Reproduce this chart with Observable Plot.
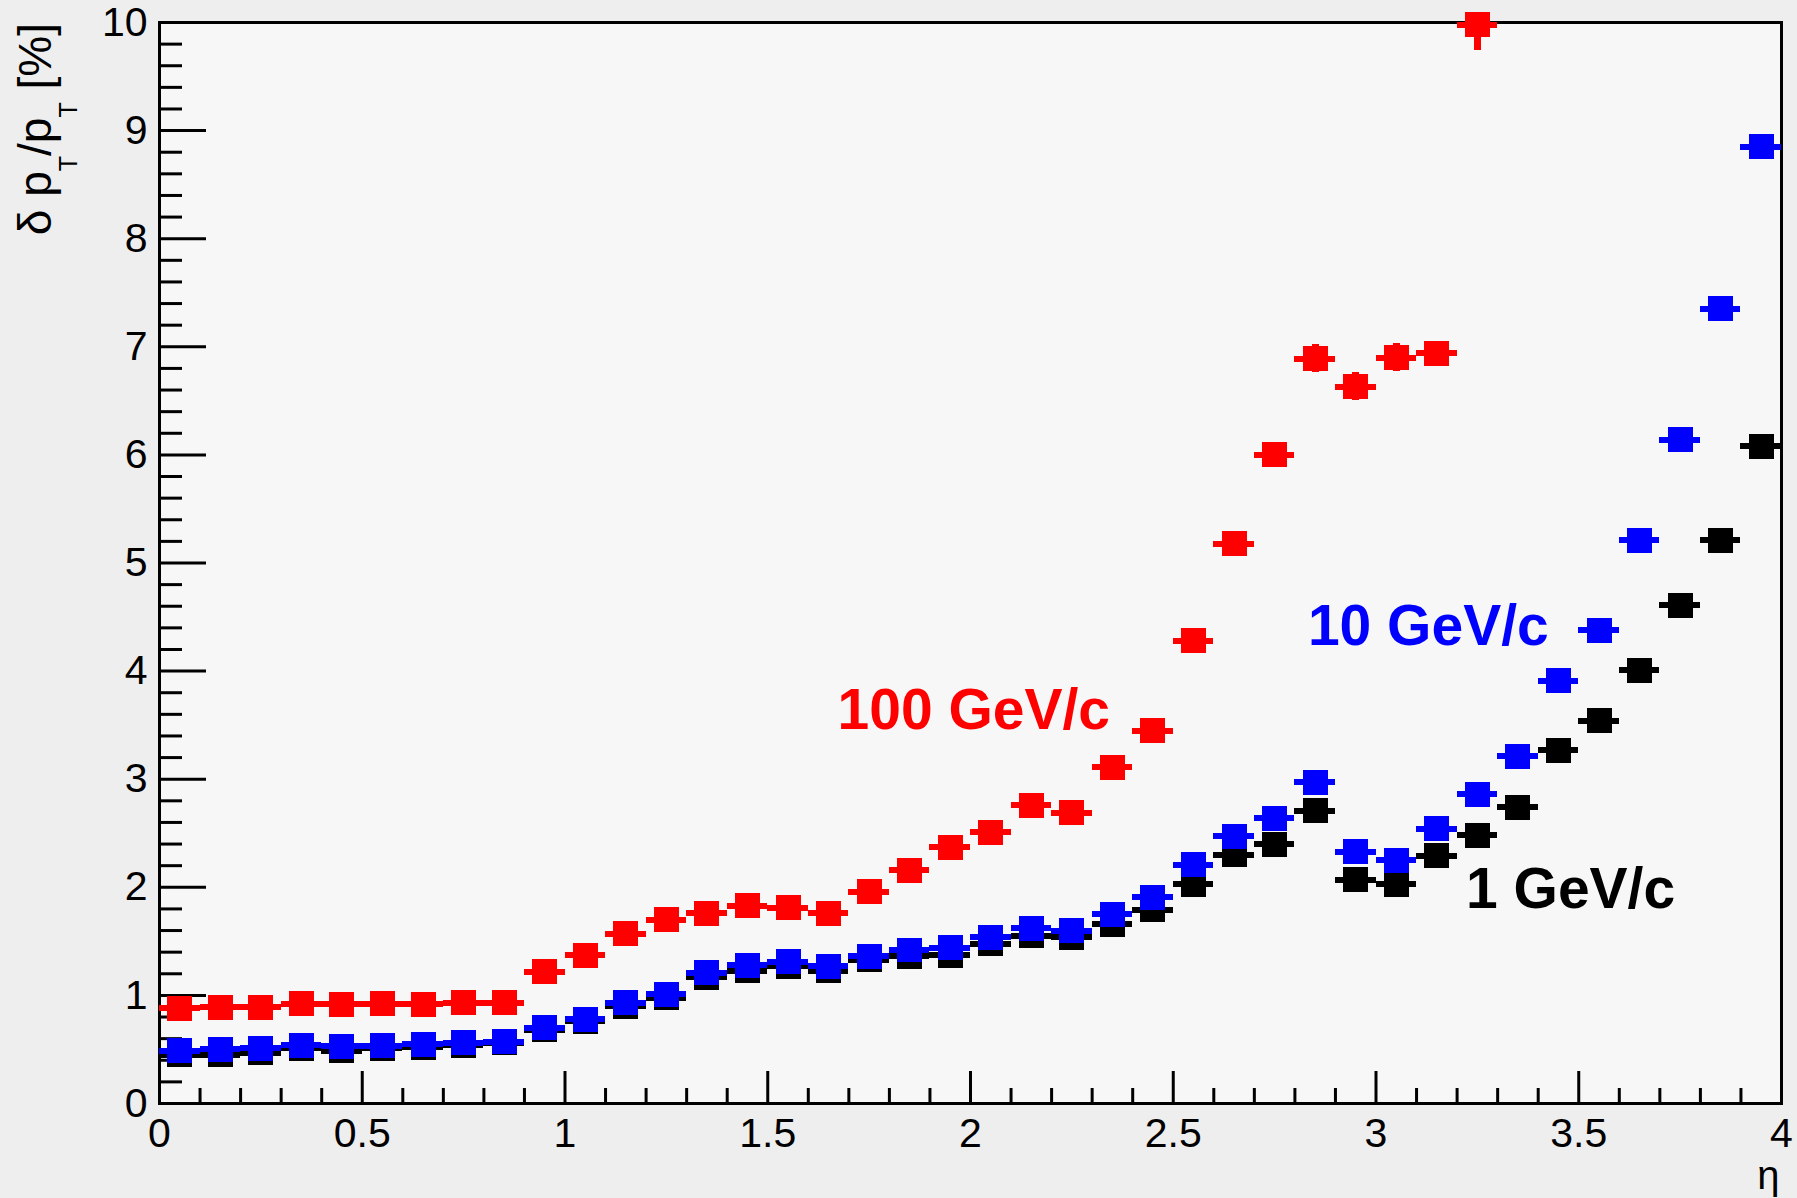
<!DOCTYPE html>
<html><head><meta charset="utf-8">
<script src="https://cdn.jsdelivr.net/npm/d3@7"></script>
<script src="https://cdn.jsdelivr.net/npm/@observablehq/plot@0.6"></script>
<style>
html,body{margin:0;padding:0;background:#eeeeee;}
#chart svg{display:block;}
</style></head><body><div id="chart"></div>
<script>
// ---- data ----
const etaBins = [0.05,0.15,0.25,0.35,0.45,0.55,0.65,0.75,0.85,0.95,
                 1.05,1.15,1.25,1.35,1.45,1.55,1.65,1.75,1.85,1.95,
                 2.05,2.15,2.25,2.35,2.45,2.55,2.65,2.75,2.85,2.95,
                 3.05,3.15,3.25,3.35,3.45,3.55,3.65,3.75,3.85,3.95];
const binHalfWidth = 0.05;

const res1GeV = [0.45,0.45,0.47,0.51,0.49,0.51,0.52,0.54,0.56,0.68,
                 0.76,0.90,0.98,1.17,1.23,1.27,1.23,1.33,1.36,1.37,
                 1.48,1.55,1.54,1.66,1.79,2.03,2.30,2.40,2.71,2.07,
                 2.03,2.29,2.48,2.74,3.27,3.54,4.01,4.61,5.21,6.08];
const res10GeV = [0.49,0.50,0.51,0.54,0.53,0.535,0.55,0.56,0.57,0.70,
                  0.78,0.93,1.01,1.21,1.28,1.31,1.27,1.36,1.42,1.44,
                  1.54,1.62,1.60,1.75,1.91,2.21,2.47,2.64,2.97,2.33,
                  2.25,2.54,2.86,3.21,3.91,4.38,5.21,6.14,7.35,8.85];
const res100GeV = [0.88,0.89,0.89,0.925,0.92,0.925,0.92,0.93,0.93,1.22,
                   1.37,1.57,1.70,1.76,1.83,1.81,1.76,1.96,2.16,2.37,
                   2.51,2.76,2.69,3.11,3.45,4.28,5.18,6.00,6.89,6.63,
                   6.90,6.94,9.98];
const err100GeV = [0.03,0.03,0.03,0.03,0.03,0.03,0.03,0.03,0.03,0.04,
                   0.04,0.05,0.05,0.05,0.05,0.05,0.05,0.06,0.06,0.07,
                   0.07,0.08,0.08,0.09,0.09,0.10,0.11,0.11,0.13,0.13,
                   0.13,0.11,0.24];

const seriesNames  = ["1 GeV/c", "10 GeV/c", "100 GeV/c"];
const seriesColors = ["#000000", "#0000ff", "#ff0000"];
const labelEta     = [3.222, 2.832, 1.672];
const labelValue   = [1.806, 4.24, 3.46];

const xMajorTicks = [0, 0.5, 1, 1.5, 2, 2.5, 3, 3.5, 4];
const xTickLabels = ["0", "0.5", "1", "1.5", "2", "2.5", "3", "3.5", "4"];
const yMajorTicks = [0,1,2,3,4,5,6,7,8,9,10];
const yTickLabels = ["0","1","2","3","4","5","6","7","8","9","10"];
const xMinorTicks = d3.range(0, 41).map(i => i / 10).filter(v => Math.abs(v * 2 - Math.round(v * 2)) > 1e-6);
const yMinorTicks = d3.range(0, 51).map(i => i / 5).filter(v => Math.abs(v - Math.round(v)) > 1e-6);

// ---- tables ----
function rows(values, errs) {
  return values.map((v, i) => ({eta: etaBins[i], v, err: errs ? errs[i] : 0}));
}
const tables = [rows(res1GeV), rows(res10GeV), rows(res100GeV, err100GeV)];

// ---- layout ----
const W = 1797, H = 1198, mL = 159, mR = 16, mT = 22, mB = 95;
const frameW = W - mL - mR, frameH = H - mT - mB;
const font = "'Liberation Sans', Arial, Helvetica, sans-serif";

function seriesMarks(data, color) {
  return [
    Plot.ruleY(data, {y: "v", x1: d => d.eta - binHalfWidth, x2: d => d.eta + binHalfWidth,
      stroke: color, strokeWidth: 6, shapeRendering: "crispEdges"}),
    Plot.ruleX(data.filter(d => d.err > 0), {x: "eta", y1: d => d.v - d.err, y2: d => d.v + d.err,
      stroke: color, strokeWidth: 7, clip: true, shapeRendering: "crispEdges"}),
    Plot.dot(data, {x: "eta", y: "v", symbol: "square", r: 14.1, fill: color, stroke: null,
      shapeRendering: "crispEdges"})
  ];
}

const chart = Plot.plot({
  width: W, height: H,
  marginLeft: mL, marginRight: mR, marginTop: mT, marginBottom: mB,
  style: {background: "#eeeeee", fontFamily: font, overflow: "visible", color: "black"},
  x: {domain: [0, 4], label: null},
  y: {domain: [0, 10], label: null},
  marks: [
    Plot.frame({fill: "#f7f7f7", stroke: null}),
    Plot.axisX({ticks: xMajorTicks, tickSize: 0, tickPadding: 14, fontSize: 41, fill: "black",
      tickFormat: d => xTickLabels[xMajorTicks.indexOf(d)], label: null}),
    Plot.axisY({ticks: yMajorTicks, tickSize: 0, tickPadding: 12, fontSize: 41, fill: "black",
      tickFormat: d => yTickLabels[yMajorTicks.indexOf(d)], label: null}),
    Plot.tickX(xMajorTicks, {x: d => d, insetTop: frameH - 32, stroke: "black", strokeWidth: 3}),
    Plot.tickX(xMinorTicks, {x: d => d, insetTop: frameH - 15, stroke: "black", strokeWidth: 3}),
    Plot.tickY(yMajorTicks, {y: d => d, insetRight: frameW - 47, stroke: "black", strokeWidth: 3}),
    Plot.tickY(yMinorTicks, {y: d => d, insetRight: frameW - 23, stroke: "black", strokeWidth: 3}),
    Plot.frame({stroke: "black", strokeWidth: 3}),
    ...tables.flatMap((t, i) => seriesMarks(t, seriesColors[i])),
    Plot.text(seriesNames, {x: (d, i) => labelEta[i], y: (d, i) => labelValue[i], text: d => d,
      fill: (d, i) => seriesColors[i], textAnchor: "start", lineAnchor: "bottom",
      fontSize: 57, fontWeight: "bold"}),
    Plot.text(["η"], {frameAnchor: "bottom-right", text: d => d, dy: 85, dx: -2,
      textAnchor: "end", lineAnchor: "bottom", fontSize: 40, fill: "black"})
  ]
});

// y-axis title with subscripts
const svg = d3.select(chart);
const t = svg.append("text")
  .attr("transform", "translate(51,23) rotate(-90)")
  .attr("text-anchor", "end")
  .attr("fill", "black")
  .style("font-size", "46px")
  .style("font-family", font);
t.append("tspan").text("δ p");
t.append("tspan").attr("dy", 26).style("font-size", "25px").text("T");
t.append("tspan").attr("dy", -26).text("/p");
t.append("tspan").attr("dy", 26).style("font-size", "25px").text("T");
t.append("tspan").attr("dy", -26).text(" [%]");

document.getElementById("chart").appendChild(chart);
</script>
</body></html>
